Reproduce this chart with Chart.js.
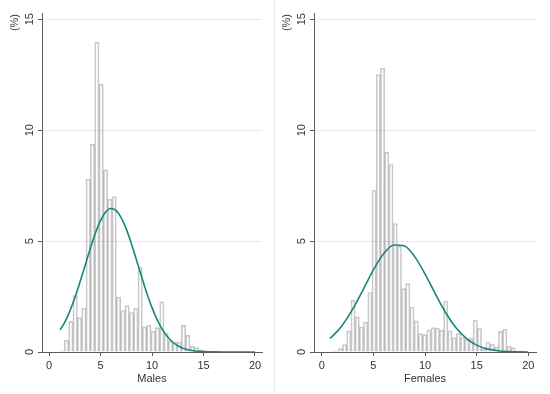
<!DOCTYPE html>
<html>
<head>
<meta charset="utf-8">
<script src="https://cdn.jsdelivr.net/npm/chart.js@4.4.1/dist/chart.umd.min.js"></script>
<style>
    html, body { margin: 0; padding: 0; background: #ffffff; }
    #wrap { position: relative; width: 550px; height: 394px; }
    #maleChart { position: absolute; left: 0; top: 0; }
    #femaleChart { position: absolute; left: 275px; top: 0; }
    #sep { position: absolute; left: 274px; top: 0; width: 1px; height: 394px; background: #e8e8e8; }
</style>
</head>
<body>
<div id="wrap">
    <canvas id="maleChart" width="275" height="394"></canvas>
    <div id="sep"></div>
    <canvas id="femaleChart" width="275" height="394"></canvas>
</div>
<script>
// 눈금 라벨
const xTickValues = [0, 5, 10, 15, 20];
const yTickValues = [0, 5, 10, 15];

// 남성 히스토그램 (구간 시작, 구간 폭, 구간별 %)
const maleBinStart = 1.07;
const maleBinWidth = 0.4207;
const maleValues = [
    0.05, 0.53, 1.38, 2.54, 1.55, 1.97, 7.79, 9.36, 13.96, 12.07,
    8.21, 6.88, 7.0, 2.47, 1.87, 2.09, 1.78, 1.97, 3.82, 1.13,
    1.2, 0.93, 1.10, 2.26, 0.83, 0.5, 0.45, 0.45, 1.2, 0.75,
    0.26, 0.2, 0.1, 0.05, 0.04, 0.03, 0, 0, 0, 0,
    0, 0, 0, 0, 0
];
// 남성 정규분포 곡선
const maleCurveX = [1.07, 1.5, 2, 2.5, 3, 3.5, 4, 4.5, 5, 5.5, 6, 6.5, 7, 7.5, 8, 8.5, 9, 9.5, 10, 10.5, 11, 11.5, 12, 12.5, 13, 14, 15, 16, 17, 18, 19, 20];
const maleCurveY = [1.0, 1.31, 1.82, 2.43, 3.14, 3.89, 4.65, 5.35, 5.92, 6.31, 6.47, 6.38, 6.06, 5.55, 4.88, 4.14, 3.38, 2.65, 2.0, 1.46, 1.02, 0.69, 0.45, 0.28, 0.17, 0.055, 0.015, 0.004, 0, 0, 0, 0];

// 여성 히스토그램
const femaleBinStart = 0.79;
const femaleBinWidth = 0.408;
const femaleValues = [
    0.02, 0.05, 0.15, 0.33, 0.95, 2.33, 1.58, 1.13, 1.35, 2.68,
    7.3, 12.5, 12.8, 9.0, 8.45, 5.79, 4.77, 2.86, 3.08, 2.03,
    1.40, 0.83, 0.78, 1.0, 1.10, 1.07, 0.98, 2.29, 0.95, 0.65,
    0.83, 0.65, 0.56, 0.6, 1.43, 1.05, 0.12, 0.45, 0.35, 0.23,
    0.93, 1.02, 0.26, 0.2, 0.02, 0, 0
];
// 여성 정규분포 곡선
const femaleCurveX = [0.79, 1, 2, 3, 4, 5, 6, 7, 8, 9, 10, 11, 12, 13, 14, 15, 16, 17, 18, 19, 20];
const femaleCurveY = [0.61, 0.69, 1.21, 1.93, 2.80, 3.70, 4.43, 4.82, 4.78, 4.30, 3.52, 2.62, 1.77, 1.09, 0.61, 0.31, 0.14, 0.06, 0.02, 0.01, 0];

const FONT = '"Liberation Sans", Arial, sans-serif';
const TEXT_COLOR = '#333333';
const AXIS_COLOR = '#5a5a5a';

// y축 라벨을 세로로 그리는 플러그인 (Stata 스타일)
const rotatedYLabels = {
    id: 'rotatedYLabels',
    afterDraw(chart) {
        const ctx = chart.ctx;
        const yScale = chart.scales.y;
        const left = chart.chartArea.left;
        ctx.save();
        ctx.fillStyle = TEXT_COLOR;
        ctx.font = '11px ' + FONT;
        ctx.textAlign = 'center';
        ctx.textBaseline = 'middle';
        yTickValues.forEach(v => {
            ctx.save();
            ctx.translate(left - 12, yScale.getPixelForValue(v));
            ctx.rotate(-Math.PI / 2);
            ctx.fillText(String(v), 0, 0);
            ctx.restore();
        });
        // (%) 제목
        ctx.save();
        ctx.translate(left - 27, chart.chartArea.top + 1);
        ctx.rotate(-Math.PI / 2);
        ctx.textAlign = 'right';
        ctx.fillText('(%)', 0, 0);
        ctx.restore();
        ctx.restore();
    }
};

function binPoints(start, width, values) {
    return values.map((v, i) => ({ x: start + (i + 0.5) * width, y: v }));
}

function curvePoints(xs, ys) {
    return xs.map((x, i) => ({ x: x, y: ys[i] }));
}

function renderHistogram(canvasId, title, bins, curve, xMin, xMax, padRight) {
    const ctx = document.getElementById(canvasId).getContext('2d');
    new Chart(ctx, {
        type: 'bar',
        data: {
            datasets: [
                {
                    type: 'line',
                    data: curve,
                    borderColor: '#17877d',
                    borderWidth: 1.6,
                    pointRadius: 0,
                    fill: false,
                    cubicInterpolationMode: 'monotone',
                    order: 0
                },
                {
                    type: 'bar',
                    data: bins,
                    backgroundColor: 'rgba(255, 255, 255, 0)',
                    borderColor: 'rgba(135, 135, 135, 0.45)',
                    borderWidth: 1,
                    borderSkipped: 'start',
                    barPercentage: 1,
                    categoryPercentage: 1,
                    order: 1
                }
            ]
        },
        options: {
            responsive: false,
            animation: false,
            layout: { padding: { top: 13, right: padRight, left: 0, bottom: 0 } },
            plugins: {
                legend: { display: false },
                tooltip: { enabled: false }
            },
            scales: {
                x: {
                    type: 'linear',
                    min: xMin,
                    max: xMax,
                    offset: false,
                    afterBuildTicks: axis => { axis.ticks = xTickValues.map(v => ({ value: v })); },
                    afterFit: scale => { scale.height = 42; },
                    grid: {
                        offset: false,
                        drawOnChartArea: false,
                        drawTicks: true,
                        tickLength: 4,
                        color: AXIS_COLOR
                    },
                    border: { color: AXIS_COLOR, width: 1 },
                    ticks: {
                        color: TEXT_COLOR,
                        font: { family: FONT, size: 11 },
                        padding: 3,
                        maxRotation: 0
                    },
                    title: {
                        display: true,
                        text: title,
                        color: TEXT_COLOR,
                        font: { family: FONT, size: 11 },
                        padding: { top: 0, bottom: 8 }
                    }
                },
                y: {
                    min: 0,
                    max: 15.28,
                    afterBuildTicks: axis => { axis.ticks = yTickValues.map(v => ({ value: v })); },
                    afterFit: scale => { scale.width = canvasId === 'maleChart' ? 42 : 39; },
                    grid: {
                        color: c => (c.tick && c.tick.value === 0) ? 'rgba(0,0,0,0)' : '#dcecef',
                        tickColor: AXIS_COLOR,
                        tickLength: 4,
                        drawTicks: true
                    },
                    border: { color: AXIS_COLOR, width: 1 },
                    ticks: { display: false }
                }
            }
        },
        plugins: [rotatedYLabels]
    });
}

renderHistogram('maleChart', 'Males',
    binPoints(maleBinStart, maleBinWidth, maleValues),
    curvePoints(maleCurveX, maleCurveY),
    -0.68, 20.68, 13);

renderHistogram('femaleChart', 'Females',
    binPoints(femaleBinStart, femaleBinWidth, femaleValues),
    curvePoints(femaleCurveX, femaleCurveY),
    -0.745, 20.745, 14);
</script>
</body>
</html>
